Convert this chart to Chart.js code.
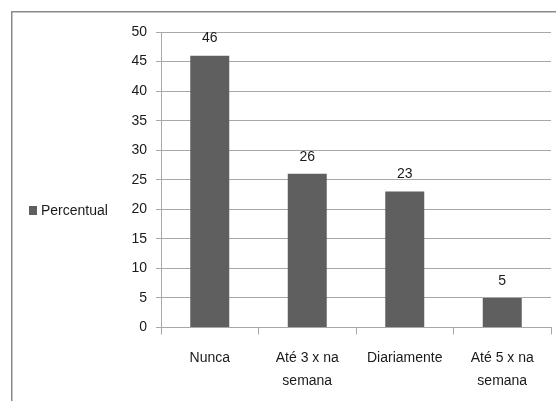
<!DOCTYPE html>
<html>
<head>
<meta charset="utf-8">
<script src="https://cdn.jsdelivr.net/npm/chart.js@4.4.1/dist/chart.umd.min.js"></script>
<style>
  html, body { margin: 0; padding: 0; background: #ffffff; }
  #wrap { width: 556px; height: 401px; position: relative; }
</style>
</head>
<body>
<div id="wrap"><canvas id="c" width="556" height="401"></canvas></div>
<script>
// Frequência por categoria (%)
const categories = [['Nunca'], ['Até 3 x na', 'semana'], ['Diariamente'], ['Até 5 x na', 'semana']];
const percentual = [46, 26, 23, 5];
const yTicks = [0, 5, 10, 15, 20, 25, 30, 35, 40, 45, 50];
const seriesName = 'Percentual';

const FONT = "'Liberation Sans', Arial, sans-serif";
const FSIZE = 14;
const TEXT = '#1a1a1a';
const GRID = '#a8a8a8';
const BAR = '#5f5f5f';

// Frame around the chart, legend at the left, and value labels over the bars
const decor = {
  id: 'decor',
  beforeDraw(chart) {
    const ctx = chart.ctx;
    ctx.save();
    ctx.strokeStyle = '#8a8a8a';
    ctx.lineWidth = 1.5;
    ctx.beginPath();
    ctx.moveTo(11.75, chart.height);
    ctx.lineTo(11.75, 11.75);
    ctx.lineTo(chart.width, 11.75);
    ctx.stroke();
    ctx.restore();
  },
  afterDatasetsDraw(chart) {
    const ctx = chart.ctx;
    const ds = chart.data.datasets[0];
    const meta = chart.getDatasetMeta(0);
    ctx.save();
    ctx.font = FSIZE + 'px ' + FONT;
    ctx.fillStyle = TEXT;
    ctx.textAlign = 'center';
    ctx.textBaseline = 'middle';
    meta.data.forEach((bar, i) => {
      ctx.fillText(String(ds.data[i]), bar.x, bar.y - 17);
    });
    // legend
    const ly = 211;
    ctx.fillStyle = ds.backgroundColor;
    ctx.fillRect(29, ly - 5, 8, 9);
    ctx.fillStyle = TEXT;
    ctx.textAlign = 'left';
    ctx.fillText(ds.label, 41, ly);
    ctx.restore();
  }
};

new Chart(document.getElementById('c'), {
  type: 'bar',
  data: {
    labels: categories,
    datasets: [{
      label: seriesName,
      data: percentual,
      backgroundColor: BAR,
      borderWidth: 0,
      categoryPercentage: 1.0,
      barPercentage: 0.4
    }]
  },
  options: {
    responsive: false,
    animation: false,
    layout: { padding: { left: 0, top: 32, right: 5, bottom: 0 } },
    plugins: {
      legend: { display: false },
      tooltip: { enabled: false }
    },
    scales: {
      x: {
        grid: {
          offset: true,
          drawOnChartArea: false,
          drawTicks: true,
          tickLength: 7,
          color: GRID
        },
        border: { color: GRID, width: 1 },
        ticks: {
          color: TEXT,
          font: { family: FONT, size: FSIZE, lineHeight: 1.65 },
          padding: 12,
          maxRotation: 0,
          autoSkip: false
        },
        afterFit(scale) { scale.height = 401 - 327.5; }
      },
      y: {
        min: 0,
        max: 50,
        afterBuildTicks(scale) { scale.ticks = yTicks.map(v => ({ value: v })); },
        grid: {
          color: GRID,
          tickLength: 5,
          drawTicks: true
        },
        border: { color: GRID, width: 1 },
        ticks: {
          color: TEXT,
          font: { family: FONT, size: FSIZE },
          padding: 9
        },
        afterFit(scale) { scale.width = 161; }
      }
    }
  },
  plugins: [decor]
});
</script>
</body>
</html>
